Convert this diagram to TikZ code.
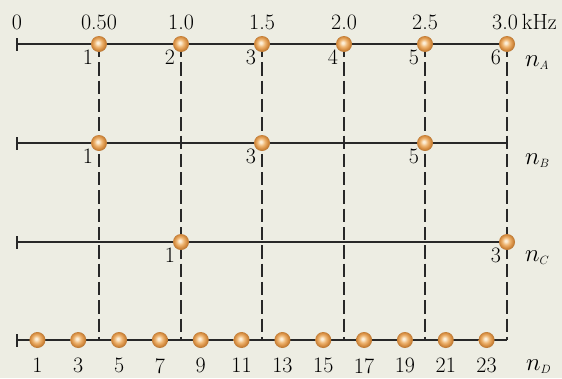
\documentclass[tikz,border=0pt]{standalone}
\usepackage{fontspec}
\usepackage{tikz}
\usetikzlibrary{positioning,backgrounds}
\definecolor{bgcol}{RGB}{237,237,227}
\definecolor{axiscol}{RGB}{40,40,40}
\definecolor{ballhi}{RGB}{252,238,215}
\definecolor{ballmid}{RGB}{238,180,112}
\definecolor{balledge}{RGB}{210,136,60}
\pgfdeclareradialshading{orangeball}{\pgfqpoint{-4bp}{4bp}}{color(0bp)=(ballhi); color(3bp)=(ballhi); color(12bp)=(ballmid); color(21bp)=(balledge); color(25bp)=(balledge!88!black); color(50bp)=(balledge!88!black)}
\tikzset{
  axis/.style={line width=1.5pt,draw=axiscol},
  guide/.style={dash pattern=on 13.3pt off 5pt,line width=1.4pt,draw=axiscol},
  ball/.style={circle,minimum size=16pt,inner sep=0pt,shade,shading=orangeball},
  num/.style={font=\fontsize{22}{26}\selectfont,inner sep=0pt,text=black},
  nlbl/.style={font=\fontsize{24}{28}\selectfont,inner sep=0pt,anchor=base west},
  harm/.style={label={[num]below left:#1}}
}

\begin{document}
\begin{tikzpicture}[x=1pt,y=-1pt]
  \useasboundingbox (0,0) rectangle (562,378);

  % frequency scale
  \node[num,anchor=base] (t0) at (17,29) {0};
  \node[num,anchor=base] (t1) at (99,29) {0.50};
  \node[num,anchor=base] (t2) at (181,29) {1.0};
  \node[num,anchor=base] (t3) at (262,29) {1.5};
  \node[num,anchor=base] (t4) at (344,29) {2.0};
  \node[num,anchor=base] (t5) at (425,29) {2.5};
  \node[num,anchor=base west] (t6) at (492,29) {3.0\hspace{4pt}kHz};

  % row A
  \coordinate (A0) at (17,44);
  \coordinate (A1) at (507,44);
  \node[ball,harm=1] (a1) at (99,44) {};
  \node[ball,harm=2] (a2) at (181,44) {};
  \node[ball,harm=3] (a3) at (262,44) {};
  \node[ball,harm=4] (a4) at (344,44) {};
  \node[ball,harm=5] (a5) at (425,44) {};
  \node[ball,harm=6] (a6) at (507,44) {};
  \node[nlbl] (nA) at (525,66) {$n_{\scriptscriptstyle A}$};

  % row B
  \coordinate (B0) at (17,143);
  \coordinate (B1) at (507,143);
  \node[ball,harm=1] (b1) at (99,143) {};
  \node[ball,harm=3] (b3) at (262,143) {};
  \node[ball,harm=5] (b5) at (425,143) {};
  \node[nlbl] (nB) at (525,164) {$n_{\scriptscriptstyle B}$};

  % row C
  \coordinate (C0) at (17,242);
  \coordinate (C1) at (507,242);
  \node[ball,harm=1] (c1) at (181,242) {};
  \node[ball,harm=3] (c3) at (507,242) {};
  \node[nlbl] (nC) at (525,261) {$n_{\scriptscriptstyle C}$};

  % row D
  \coordinate (D0) at (17,340);
  \coordinate (D1) at (507,340);
  \foreach \n in {1,3,...,23}
    \node[ball,label={[num,yshift=-10pt]below:\n}] (d\n) at ({17+20.417*\n},340) {};
  \node[nlbl] (nD) at (526,370) {$n_{\scriptscriptstyle D}$};

  \begin{scope}[on background layer]
    \fill[bgcol] (0,0) rectangle (562,378);
    \foreach \r in {A,B,C,D}{
      \draw[axis] (\r0) -- (\r1);
      \draw[axis] ([yshift=-6.5pt]\r0) -- ([yshift=6.5pt]\r0);
    }
    \foreach \k in {1,...,6}
      \draw[guide] (a\k.center) -- (a\k.center |- D0);
  \end{scope}
\end{tikzpicture}
\end{document}
